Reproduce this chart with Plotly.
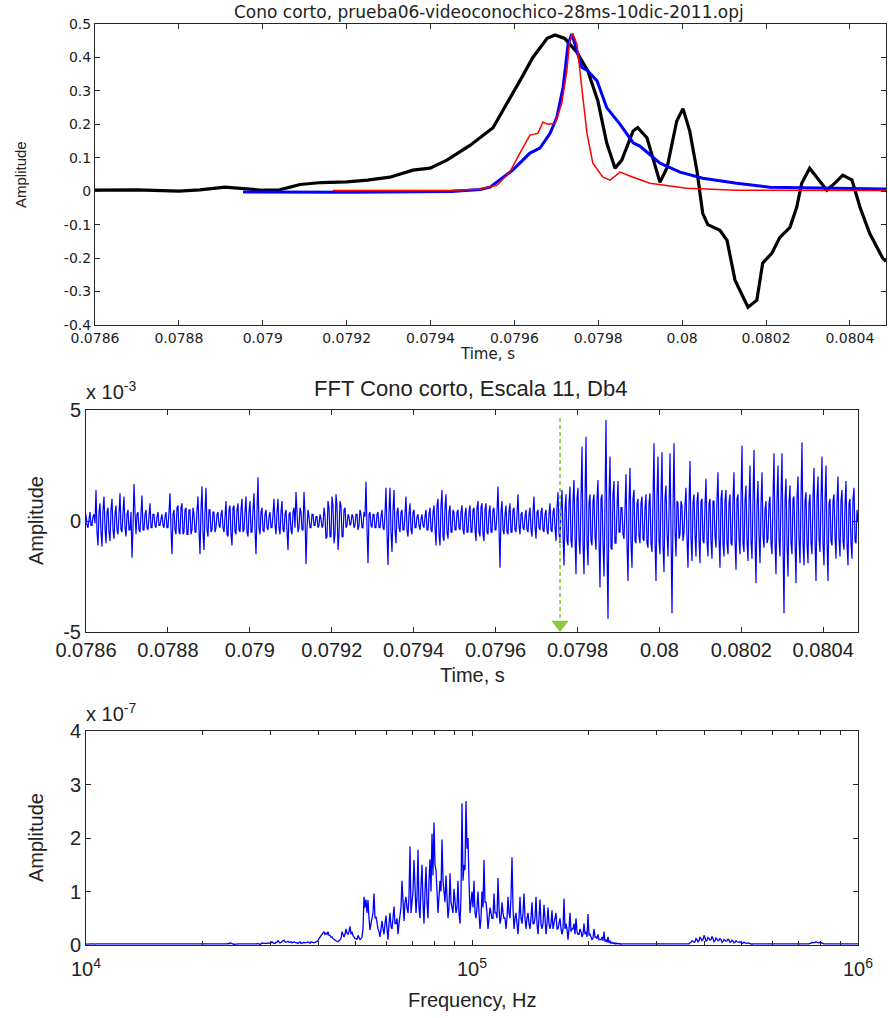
import numpy as np
import plotly.graph_objects as go

# ---------------- Top panel data (time in s, amplitude) ----------------
black_t = [0.07860, 0.07870, 0.07880, 0.07885, 0.07891, 0.07895, 0.07900, 0.07904,
           0.079089, 0.07914, 0.07920, 0.07925, 0.079303, 0.079358, 0.079399, 0.079439,
           0.079494, 0.079549, 0.079582, 0.079613, 0.079644, 0.079678, 0.079697, 0.079720,
           0.079749, 0.079775, 0.079799, 0.079820, 0.079840, 0.079856, 0.079883, 0.079894,
           0.079916, 0.079947, 0.079964, 0.079987, 0.080002, 0.080018, 0.080035, 0.080049,
           0.080061, 0.080090, 0.080107, 0.080126, 0.080157, 0.080178, 0.080192, 0.080214,
           0.080233, 0.080257, 0.080273, 0.080285, 0.080304, 0.080321, 0.080345, 0.080364,
           0.080383, 0.080405, 0.080424, 0.080447, 0.080478, 0.080486]
black_v = [0.003, 0.004, 0.000, 0.004, 0.012, 0.008, 0.003, 0.004,
           0.020, 0.026, 0.028, 0.033, 0.042, 0.063, 0.069, 0.093,
           0.137, 0.190, 0.260, 0.330, 0.400, 0.457, 0.467, 0.457,
           0.416, 0.360, 0.270, 0.145, 0.069, 0.093, 0.180, 0.190,
           0.160, 0.027, 0.070, 0.210, 0.247, 0.180, 0.063, -0.066,
           -0.100, -0.117, -0.147, -0.266, -0.347, -0.326, -0.215, -0.185,
           -0.138, -0.108, -0.048, 0.024, 0.069, 0.042, 0.003, 0.024,
           0.048, 0.033, -0.048, -0.126, -0.200, -0.210]

blue_t = [0.078953, 0.07920, 0.07945, 0.079518, 0.079542, 0.079596, 0.079637, 0.079661,
          0.079685, 0.079701, 0.079716, 0.079728, 0.079737, 0.079749, 0.079761, 0.079775,
          0.079797, 0.079820, 0.079852, 0.079883, 0.079899, 0.079947, 0.079995, 0.080049,
          0.080130, 0.080209, 0.080328, 0.080486]
blue_v = [-0.002, -0.003, -0.001, 0.005, 0.012, 0.063, 0.114, 0.129,
          0.173, 0.220, 0.310, 0.440, 0.470, 0.420, 0.370, 0.360,
          0.330, 0.250, 0.200, 0.145, 0.135, 0.084, 0.057, 0.039,
          0.024, 0.012, 0.009, 0.007]

red_t = [0.079167, 0.07945, 0.079518, 0.079525, 0.079558, 0.079589, 0.079613, 0.079637,
         0.079656, 0.079668, 0.079680, 0.079697, 0.079713, 0.079725, 0.079732, 0.079739,
         0.079749, 0.079761, 0.079773, 0.079787, 0.079811, 0.079828, 0.079852, 0.079883,
         0.079923, 0.080011, 0.080130, 0.080486]
red_v = [0.002, 0.003, 0.006, 0.009, 0.018, 0.057, 0.114, 0.168,
         0.173, 0.207, 0.200, 0.203, 0.263, 0.360, 0.450, 0.472,
         0.440, 0.310, 0.173, 0.084, 0.042, 0.033, 0.057, 0.042,
         0.024, 0.009, 0.003, 0.002]

# ---------------- Middle panel data (amplitude x 1e-3), uniform sampling ----------------
wave_start = 0.0786
wave_end = 0.080485
# peak samples (even samples)
wave_amp = [
    0.3, -0.3, 0.4, -0.2, 0.3,   1.4, -1.1, 0.8, -1.15, 1.1,   -1.0, 0.6, -0.9, 1.0, -0.8,
    0.7, -0.6, 1.25, -0.5, 1.1,   -0.7, 0.5, -0.4, -1.65, 1.67,   -0.6, 0.4, -0.5, 1.15, -0.4,
    0.5, -0.4, 0.8, -0.3, 0.3,   -0.3, 0.4, -0.2, 0.3, -0.3,   0.4, -0.3, 1.25, -1.5, 0.5,
    -0.6, 0.7, -0.6, 0.8, -0.5,   0.6, -0.6, 0.5, -0.4, 0.3,   -0.5, 1.1, -1.5, 1.55, -1.3,
    1.5, -0.7, 0.5, -0.4, 0.4,   -0.3, 0.4, -0.3, 0.5, -0.5,   0.9, -0.7, 0.7, -1.1, 0.7,
    -0.6, 0.8, -0.5, 1.0, -0.4,   1.1, -0.7, 0.9, -0.5, 1.25,   -1.5, 1.97, -0.6, 0.6, -0.5,
    0.5, -0.4, 0.4, -0.3, 1.0,   -0.6, 1.0, -0.6, 0.9, -0.5,   0.5, -1.3, 0.4, -0.6, 0.6,
    1.3, -0.5, 0.6, -0.4, 1.3,   -1.94, 0.5, -0.3, 0.3, -0.2,   0.2, -0.3, 0.3, -0.3, 0.6,
    -0.8, 0.9, -0.7, 1.1, -1.0,   1.2, -1.3, 0.9, -0.7, 0.5,   -0.3, 0.3, -0.2, 0.3, -0.3,
    0.3, -0.4, 0.5, -0.3, 0.4,   1.77, -1.9, 0.4, -0.3, 0.3,   -0.3, 0.4, -0.3, 0.5, -0.4,
    1.5, -1.98, 1.5, -1.4, 1.4,   -1.0, 0.6, -0.5, 0.5, -0.4,   1.1, -0.7, 0.8, -0.6, 0.5,
    -0.3, 0.3, -0.4, 0.3, -0.3,   0.5, -0.4, 0.6, -0.5, 0.7,   -1.1, 1.0, -1.1, 1.4, -0.9,
    1.2, -0.8, 0.7, -0.5, 0.4,   -0.4, 0.5, -0.4, 0.7, -0.6,   0.6, -0.5, 0.7, -0.5, 0.6,
    -0.9, 0.9, -0.7, 0.8, -0.9,   0.8, -0.6, 0.7, -0.5, 0.6,   -0.4, 1.55, -2.1, 0.9, -0.6,
    0.7, -0.6, 0.8, -0.5, 0.6,   -0.5, 1.2, -0.6, 0.4, -0.4,   0.5, -0.5, 0.6, -0.7, 1.1,
    -0.8, 0.5, -0.4, 0.6, -0.5,   0.5, -0.6, 0.8, -0.5, 0.6,   -0.9, 1.3, -1.0, 1.4, -2.0,
    1.2, -1.1, 1.55, -1.2, 1.85,   -2.4, 1.5, -1.5, 3.35, -2.4,   3.8, -2.0, 1.2, -1.1, 1.2,
    -1.3, 1.85, -3.0, 1.2, -2.5,   4.55, -4.4, 2.9, -1.3, 1.8,   -1.0, 1.8, -0.5, 0.6, -0.8,
    2.1, -2.7, 2.4, -2.1, 1.4,   -1.0, 1.0, -1.0, 1.1, -0.9,   1.2, -1.2, 1.25, -1.4, 3.5,
    -2.7, 2.9, -1.5, 3.1, -2.3,   1.6, -1.6, 3.05, -4.16, 3.5,   -1.6, 0.8, -0.6, 0.7, -0.5,
    1.5, -2.1, 2.7, -1.8, 1.2,   -1.6, 1.3, -1.9, 1.0, -1.0,   1.9, -1.6, 1.0, -1.7, 0.9,
    -1.2, 2.2, -2.1, 1.4, -1.6,   1.4, -1.5, 1.2, -1.1, 2.2,   -2.2, 1.2, -1.5, 3.4, -1.4,
    1.6, -1.8, 2.5, -1.7, 3.2,   -2.8, 1.8, -1.9, 2.2, -1.2,   0.9, -0.8, 1.1, -1.5, 3.05,
    -2.4, 2.5, -1.6, 3.05, -4.16,   1.9, -2.5, 1.6, -1.5, 1.1,   -2.8, 2.0, -1.9, 3.55, -2.0,
    1.3, -1.9, 1.2, -1.5, 2.4,   -2.7, 2.0, -1.4, 2.9, -2.0,   2.5, -2.7, 1.0, -1.1, 1.2,
    -1.7, 2.0, -1.6, 1.4, -1.3,   1.8, -2.0, 1.0, -1.7, 1.5,   -1.0, 0.0,
]
# in-between samples (odd samples), the dense band around zero
wave_fill = [
    -0.2, 0.15, -0.2, 0.2, -0.1,   -0.5, 0.4, -0.5, 0.5, -0.3,   0.4, -0.5, 0.5, -0.4, 0.3,
    -0.4, 0.3, -0.4, 0.4, -0.3,   0.3, -0.4, 0.4, -0.3, 0.4,   0.3, -0.4, 0.3, -0.4, 0.3,
    -0.3, 0.2, -0.3, 0.3, -0.2,   0.2, -0.2, 0.1, -0.2, 0.2,   -0.3, 0.4, -0.4, 0.3, -0.4,
    0.6, -0.5, 0.6, -0.6, 0.5,   -0.6, 0.5, -0.6, 0.6, -0.5,   0.5, -0.4, 0.5, -0.5, 0.4,
    -0.4, 0.5, -0.5, 0.4, -0.5,   0.3, -0.2, 0.3, -0.3, 0.2,   -0.6, 0.5, -0.6, 0.6, -0.5,
    0.5, -0.4, 0.5, -0.5, 0.4,   -0.5, 0.4, -0.5, 0.5, -0.4,   0.4, -0.3, 0.4, -0.4, 0.3,
    -0.3, 0.2, -0.3, 0.3, -0.2,   0.4, -0.3, 0.4, -0.4, 0.3,   -0.4, 0.3, -0.4, 0.4, -0.3,
    0.4, -0.3, 0.4, -0.4, 0.3,   -0.3, 0.2, -0.3, 0.3, -0.2,   0.2, -0.2, 0.1, -0.2, 0.2,
    -0.7, 0.6, -0.7, 0.7, -0.6,   0.7, -0.6, 0.7, -0.7, 0.6,   -0.2, 0.2, -0.1, 0.2, -0.2,
    0.3, -0.2, 0.3, -0.3, 0.2,   -0.3, 0.3, -0.2, 0.3, -0.3,   0.3, -0.3, 0.2, -0.3, 0.3,
    -0.5, 0.4, -0.5, 0.5, -0.4,   0.4, -0.3, 0.4, -0.4, 0.3,   -0.4, 0.3, -0.4, 0.4, -0.3,
    0.2, -0.2, 0.1, -0.2, 0.2,   -0.4, 0.3, -0.4, 0.4, -0.3,   0.7, -0.6, 0.7, -0.7, 0.6,
    -0.5, 0.4, -0.5, 0.5, -0.4,   0.4, -0.3, 0.4, -0.4, 0.3,   -0.5, 0.4, -0.5, 0.5, -0.4,
    0.6, -0.5, 0.6, -0.6, 0.5,   -0.5, 0.4, -0.5, 0.5, -0.4,   0.4, -0.3, 0.4, -0.4, 0.3,
    -0.5, 0.4, -0.5, 0.5, -0.4,   0.3, -0.2, 0.3, -0.3, 0.2,   -0.4, 0.3, -0.4, 0.4, -0.3,
    0.4, -0.3, 0.4, -0.4, 0.3,   -0.4, 0.3, -0.4, 0.4, -0.3,   0.6, -0.5, 0.6, -0.6, 0.5,
    -0.9, 0.8, -0.9, 0.9, -0.7,   1.0, -0.8, 1.0, -1.0, 0.9,   -0.9, 0.8, -0.9, 0.9, -0.7,
    1.0, -0.8, 1.0, -1.0, 0.9,   -1.2, 1.0, -1.2, 1.2, -1.0,   0.6, -0.5, 0.6, -0.6, 0.5,
    -1.0, 0.8, -1.0, 1.0, -0.9,   0.8, -0.7, 0.8, -0.8, 0.6,   -1.0, 0.8, -1.0, 1.0, -0.9,
    1.1, -0.9, 1.1, -1.1, 1.0,   -0.5, 0.4, -0.5, 0.5, -0.4,   0.9, -0.8, 0.9, -0.9, 0.7,
    -0.8, 0.7, -0.8, 0.8, -0.6,   0.9, -0.8, 0.9, -0.9, 0.7,   -0.9, 0.8, -0.9, 0.9, -0.7,
    1.0, -0.8, 1.0, -1.0, 0.9,   -1.0, 0.8, -1.0, 1.0, -0.9,   1.0, -0.8, 1.0, -1.0, 0.9,
    -0.9, 0.8, -0.9, 0.9, -0.7,   0.7, -0.6, 0.7, -0.7, 0.5,   -1.0, 0.8, -1.0, 1.0, -0.9,
    1.0, -0.8, 1.0, -1.0, 0.9,   -1.0, 0.8, -1.0, 1.0, -0.9,   1.0, -0.8, 1.0, -1.0, 0.9,
    -1.0, 0.8, -1.0, 1.0, -0.9,   1.0, -0.8, 1.0, -1.0, 0.9,   -0.9, 0.8, -0.9, 0.9, -0.7,
    0.9, -0.8, 0.9, -0.9, 0.7,   -1.0, 0.8, -1.0, 1.0, -0.9,   0.5,
]
marker_time = 0.0797575
marker_top = 4.64
marker_bottom = -4.45
marker_tip = -4.66

# ---------------- Bottom panel data (amplitude x 1e-7), log-uniform frequency ----------------
# peak samples
spec_amp = [
    0.015, 0.02, 0.015, 0.02, 0.015,  0.02, 0.015, 0.02, 0.015, 0.02,  0.015, 0.02, 0.015, 0.02, 0.015,
    0.02, 0.015, 0.02, 0.015, 0.02,  0.015, 0.02, 0.015, 0.02, 0.015,  0.02, 0.015, 0.02, 0.015, 0.02,
    0.015, 0.02, 0.015, 0.02, 0.015,  0.02, 0.015, 0.02, 0.015, 0.02,  0.015, 0.02, 0.015, 0.02, 0.015,
    0.02, 0.015, 0.02, 0.015, 0.02,  0.015, 0.02, 0.015, 0.02, 0.015,  0.02, 0.015, 0.02, 0.015, 0.02,
    0.015, 0.02, 0.015, 0.02, 0.015,  0.02, 0.015, 0.02, 0.015, 0.02,
    0.02, 0.03, 0.04, 0.02, 0.01,  0.01, 0.02, 0.01, 0.02, 0.01,  0.02, 0.01, 0.02, 0.02, 0.01,
    0.02, 0.03, 0.01, 0.04, 0.03,  0.02, 0.04, 0.03, 0.06, 0.03,  0.05, 0.08, 0.04, 0.06, 0.09,
    0.05, 0.07, 0.06, 0.04, 0.06,
    0.05, 0.03, 0.06, 0.04, 0.05,  0.04, 0.06, 0.03, 0.05, 0.04,  0.06, 0.08, 0.15, 0.20, 0.25,
    0.22, 0.25, 0.18, 0.15, 0.10,  0.08, 0.06, 0.10, 0.25, 0.15,  0.30, 0.20, 0.35, 0.25, 0.15,
    0.12, 0.18, 0.10, 0.15, 0.90,  0.85, 0.84, 0.28, 0.55, 0.96,  0.53, 0.30, 0.15, 0.45, 0.20,
    0.55, 0.10, 0.60, 0.30, 0.72,  0.40, 0.20, 0.60, 1.20, 0.45,  0.90, 0.60, 1.84, 0.90, 1.59,
    0.60, 1.78, 0.50, 1.50, 0.40,  1.46, 0.50, 1.60, 2.08, 2.29,  1.40, 0.60, 1.20, 1.97, 0.90,
    1.30, 0.50, 1.34, 0.70, 1.05,  0.60, 1.20, 0.40, 2.65, 1.50,  2.69, 2.00, 0.60, 1.00, 1.20,
    0.50, 1.00, 0.30, 1.00, 1.59,  0.80, 0.30, 0.70, 0.50, 0.96,  0.60, 1.25, 0.40, 0.80, 0.50,
    0.30, 0.90, 0.50, 1.64, 0.30,  0.60, 0.20, 0.90, 0.40, 0.96,  0.30, 0.60, 0.30, 0.80, 0.40,
    0.90, 0.20, 0.85, 0.30, 0.75,  0.20, 0.70, 0.30, 0.65, 0.40,  0.60, 0.30, 0.50, 0.20, 0.87,
    0.40, 0.10, 0.60, 0.30, 0.40,  0.50, 0.20, 0.30, 0.15, 0.40,  0.25, 0.58, 0.20, 0.10, 0.30,
    0.15, 0.20, 0.10, 0.15, 0.25,  0.10, 0.15, 0.08, 0.05, 0.04,  0.04, 0.03, 0.03, 0.02, 0.02,
    0.02, 0.015, 0.02, 0.015, 0.02,  0.015, 0.02, 0.015, 0.02, 0.015,  0.02, 0.015, 0.02, 0.015, 0.02,
    0.015, 0.02, 0.015, 0.02, 0.015,  0.02, 0.015, 0.02, 0.015, 0.02,  0.015, 0.02, 0.015, 0.02, 0.015,
    0.02, 0.015,
    0.04, 0.08, 0.05, 0.12, 0.06,  0.15, 0.08, 0.18, 0.07, 0.14,  0.09, 0.16, 0.06, 0.13, 0.08,
    0.12, 0.05, 0.10, 0.07, 0.11,  0.05, 0.09, 0.04, 0.08, 0.05,  0.06, 0.03, 0.05, 0.03, 0.04,
    0.02, 0.015, 0.02, 0.015, 0.02,  0.015, 0.02, 0.015, 0.02, 0.015,  0.02, 0.015, 0.02, 0.015, 0.02,
    0.015, 0.02, 0.015, 0.02, 0.015,  0.02, 0.015, 0.02, 0.015, 0.02,  0.015, 0.02, 0.015, 0.02, 0.015,
    0.03, 0.05, 0.04, 0.06, 0.04,  0.05, 0.03, 0.02,
    0.02, 0.015, 0.02, 0.015, 0.02,  0.015, 0.02, 0.015, 0.02, 0.015,  0.02, 0.015, 0.02, 0.015, 0.02,
    0.015, 0.02,
]
# in-between samples (lower envelope of the dense spectrum)
spec_fill = [
    0.018, 0.02, 0.018, 0.02, 0.018,  0.02, 0.018, 0.02, 0.018, 0.02,  0.018, 0.02, 0.018, 0.02, 0.018,
    0.02, 0.018, 0.02, 0.018, 0.02,  0.018, 0.02, 0.018, 0.02, 0.018,  0.02, 0.018, 0.02, 0.018, 0.02,
    0.018, 0.02, 0.018, 0.02, 0.018,  0.02, 0.018, 0.02, 0.018, 0.02,  0.018, 0.02, 0.018, 0.02, 0.018,
    0.02, 0.018, 0.02, 0.018, 0.02,  0.018, 0.02, 0.018, 0.02, 0.018,  0.02, 0.018, 0.02, 0.018, 0.02,
    0.018, 0.02, 0.018, 0.02, 0.018,  0.02, 0.018, 0.02, 0.018, 0.02,
    0.02, 0.02, 0.03, 0.02, 0.015,  0.015, 0.02, 0.015, 0.02, 0.015,  0.02, 0.015, 0.02, 0.015, 0.02,
    0.02, 0.02, 0.02, 0.03, 0.02,  0.03, 0.03, 0.04, 0.04, 0.03,  0.05, 0.06, 0.05, 0.07, 0.06,
    0.06, 0.05, 0.06, 0.05, 0.05,
    0.04, 0.05, 0.03, 0.05, 0.04,  0.05, 0.04, 0.06, 0.04, 0.05,  0.07, 0.12, 0.18, 0.22, 0.20,
    0.20, 0.18, 0.15, 0.12, 0.08,  0.07, 0.08, 0.12, 0.18, 0.20,  0.22, 0.25, 0.20, 0.18, 0.12,
    0.10, 0.12, 0.12, 0.30, 0.70,  0.60, 0.50, 0.40, 0.60, 0.50,  0.40, 0.25, 0.30, 0.30, 0.40,
    0.30, 0.40, 0.35, 0.50, 0.40,  0.50, 0.40, 0.70, 0.60, 0.80,  0.70, 0.90, 0.60, 1.00, 0.80,
    0.90, 0.70, 1.10, 0.80, 1.00,  0.80, 1.20, 1.00, 1.30, 1.50,  1.00, 0.90, 1.00, 1.20, 0.80,
    0.90, 0.70, 0.80, 0.60, 0.70,  0.70, 0.60, 0.90, 1.20, 1.40,  1.80, 1.20, 0.80, 0.70, 0.60,
    0.70, 0.60, 0.50, 0.70, 0.80,  0.60, 0.50, 0.60, 0.50, 0.60,  0.50, 0.70, 0.50, 0.60, 0.50,
    0.50, 0.60, 0.90, 0.70, 0.50,  0.40, 0.50, 0.50, 0.60, 0.50,  0.50, 0.40, 0.50, 0.40, 0.50,
    0.40, 0.50, 0.40, 0.40, 0.50,  0.40, 0.40, 0.40, 0.30, 0.50,  0.30, 0.40, 0.30, 0.30, 0.30,
    0.30, 0.30, 0.25, 0.30, 0.20,  0.25, 0.20, 0.25, 0.20, 0.20,  0.15, 0.18, 0.15, 0.12, 0.15,
    0.12, 0.10, 0.10, 0.08, 0.06,  0.05, 0.04, 0.03, 0.03, 0.02,  0.02, 0.02, 0.015, 0.02, 0.02,
    0.018, 0.02, 0.018, 0.02, 0.018,  0.02, 0.018, 0.02, 0.018, 0.02,  0.018, 0.02, 0.018, 0.02, 0.018,
    0.02, 0.018, 0.02, 0.018, 0.02,  0.018, 0.02, 0.018, 0.02, 0.018,  0.02, 0.018, 0.02, 0.018, 0.02,
    0.018, 0.02,
    0.05, 0.07, 0.06, 0.10, 0.08,  0.12, 0.10, 0.14, 0.09, 0.12,  0.10, 0.12, 0.08, 0.11, 0.09,
    0.10, 0.07, 0.09, 0.08, 0.09,  0.06, 0.07, 0.05, 0.06, 0.05,  0.05, 0.04, 0.04, 0.03, 0.03,
    0.018, 0.02, 0.018, 0.02, 0.018,  0.02, 0.018, 0.02, 0.018, 0.02,  0.018, 0.02, 0.018, 0.02, 0.018,
    0.02, 0.018, 0.02, 0.018, 0.02,  0.018, 0.02, 0.018, 0.02, 0.018,  0.02, 0.018, 0.02, 0.018, 0.02,
    0.03, 0.04, 0.05, 0.05, 0.04,  0.04, 0.03, 0.02,
    0.018, 0.02, 0.018, 0.02, 0.018,  0.02, 0.018, 0.02, 0.018, 0.02,  0.018, 0.02, 0.018, 0.02, 0.018,
    0.02,
]
freq_start_exp = 4
freq_end_exp = 6

# ---------------- Tick labels ----------------
time_ticks = [0.0786, 0.0788, 0.0790, 0.0792, 0.0794, 0.0796, 0.0798, 0.0800, 0.0802, 0.0804]
time_labels = ["0.0786", "0.0788", "0.079", "0.0792", "0.0794", "0.0796", "0.0798", "0.08", "0.0802", "0.0804"]
top_y_ticks = [-0.4, -0.3, -0.2, -0.1, 0, 0.1, 0.2, 0.3, 0.4, 0.5]
top_y_labels = ["-0.4", "-0.3", "-0.2", "-0.1", "0", "0.1", "0.2", "0.3", "0.4", "0.5"]
mid_y_ticks = [-5, 0, 5]
mid_y_labels = ["-5", "0", "5"]
bot_y_ticks = [0, 1, 2, 3, 4]
bot_y_labels = ["0", "1", "2", "3", "4"]
freq_ticks = [1e4, 1e5, 1e6]
freq_labels = ["10<sup>4</sup>", "10<sup>5</sup>", "10<sup>6</sup>"]
freq_minor = [2e4, 3e4, 4e4, 5e4, 6e4, 7e4, 8e4, 9e4, 2e5, 3e5, 4e5, 5e5, 6e5, 7e5, 8e5, 9e5]

W, H = 888, 1018
def px(x):
    return x / W
def py(y):
    return 1 - y / H

def interleave(a, b):
    out = []
    for i, v in enumerate(a):
        out.append(v)
        if i < len(b):
            out.append(b[i])
    return out

wave_seq = interleave(wave_amp, wave_fill)
wave_t = np.linspace(wave_start, wave_end, len(wave_seq))
spec_seq = interleave(spec_amp, spec_fill)
freq = np.logspace(freq_start_exp, freq_end_exp, len(spec_seq))

fig = go.Figure()
fig.add_trace(go.Scatter(x=black_t, y=black_v, mode="lines", line=dict(color="black", width=3.2),
                         xaxis="x", yaxis="y", showlegend=False))
fig.add_trace(go.Scatter(x=blue_t, y=blue_v, mode="lines", line=dict(color="#0000ff", width=3),
                         xaxis="x", yaxis="y", showlegend=False))
fig.add_trace(go.Scatter(x=red_t, y=red_v, mode="lines", line=dict(color="#ff0000", width=1.5),
                         xaxis="x", yaxis="y", showlegend=False))

fig.add_trace(go.Scatter(x=wave_t, y=wave_seq, mode="lines", line=dict(color="#0000ff", width=1.2),
                         xaxis="x2", yaxis="y2", showlegend=False))
fig.add_trace(go.Scatter(x=[marker_time, marker_time], y=[marker_top, marker_bottom], mode="lines",
                         line=dict(color="#8cc63f", width=1.6, dash="4px,3px"),
                         xaxis="x2", yaxis="y2", showlegend=False))
fig.add_trace(go.Scatter(x=[marker_time], y=[marker_tip], mode="markers",
                         marker=dict(symbol="triangle-down", size=15, color="#8cc63f"),
                         xaxis="x2", yaxis="y2", showlegend=False, cliponaxis=False))

fig.add_trace(go.Scatter(x=freq, y=spec_seq, mode="lines", line=dict(color="#0000ff", width=1.3),
                         xaxis="x3", yaxis="y3", showlegend=False))

frame = "#262626"
small_font = dict(family="DejaVu Sans", size=14, color="#222")
big_font = dict(family="Liberation Sans, Arial", size=20, color="#222")

common = dict(showline=True, linecolor=frame, linewidth=1, mirror="ticks", ticks="inside",
              ticklen=5, tickcolor=frame, showgrid=False, zeroline=False, automargin=False)

fig.update_layout(
    template="none",
    width=W, height=H, margin=dict(l=0, r=0, t=0, b=0, autoexpand=False),
    paper_bgcolor="white", plot_bgcolor="white",
    xaxis=dict(domain=[px(95), px(886)], anchor="y", range=[0.0786, 0.080486],
               tickvals=time_ticks, ticktext=time_labels, tickfont=small_font, **common),
    yaxis=dict(domain=[py(325), py(24)], anchor="x", range=[-0.4, 0.5],
               tickvals=top_y_ticks, ticktext=top_y_labels, tickfont=small_font, **common),
    xaxis2=dict(domain=[px(86), px(858)], anchor="y2", range=[0.0786, 0.080485],
                tickvals=time_ticks, ticktext=time_labels, tickfont=big_font, **common),
    yaxis2=dict(domain=[py(632), py(410)], anchor="x2", range=[-5, 5],
                tickvals=mid_y_ticks, ticktext=mid_y_labels, tickfont=big_font, **common),
    xaxis3=dict(domain=[px(86), px(858)], anchor="y3", type="log", range=[4, 6],
                tickvals=freq_ticks, ticktext=freq_labels, tickfont=big_font, ticklabelstandoff=6,
                minor=dict(tickvals=freq_minor, ticks="inside", ticklen=4, tickcolor=frame),
                **common),
    yaxis3=dict(domain=[py(945), py(731)], anchor="x3", range=[0, 4],
                tickvals=bot_y_ticks, ticktext=bot_y_labels, tickfont=big_font, **common),
)

title_font = dict(family="Liberation Sans, Arial", size=22, color="#222")
ann = [
    dict(text="Cono corto, prueba06-videoconochico-28ms-10dic-2011.opj", x=px(489), y=py(12),
         font=dict(family="DejaVu Sans", size=17, color="#222")),
    dict(text="Time, s", x=px(487), y=py(354), font=dict(family="DejaVu Sans", size=15, color="#222")),
    dict(text="Amplitude", x=px(20), y=py(175), textangle=-90,
         font=dict(family="Liberation Sans Narrow, Liberation Sans", size=15, color="#222")),
    dict(text="FFT Cono corto, Escala 11, Db4", x=px(470), y=py(388), font=title_font),
    dict(text="x 10<sup>-3</sup>", x=px(84), y=py(390), xanchor="left", font=big_font),
    dict(text="Amplitude", x=px(36), y=py(521), textangle=-90, font=big_font),
    dict(text="Time, s", x=px(472), y=py(675), font=big_font),
    dict(text="x 10<sup>-7</sup>", x=px(84), y=py(712), xanchor="left", font=big_font),
    dict(text="Amplitude", x=px(36), y=py(838), textangle=-90, font=big_font),
    dict(text="Frequency, Hz", x=px(472), y=py(1000), font=big_font),
]
for a in ann:
    a.setdefault("xanchor", "center")
    a.update(xref="paper", yref="paper", yanchor="middle", showarrow=False)
fig.update_layout(annotations=ann)

fig.write_html("out.html", config={"displayModeBar": False},
               post_script="document.body.style.margin='0';document.body.style.padding='0';")
